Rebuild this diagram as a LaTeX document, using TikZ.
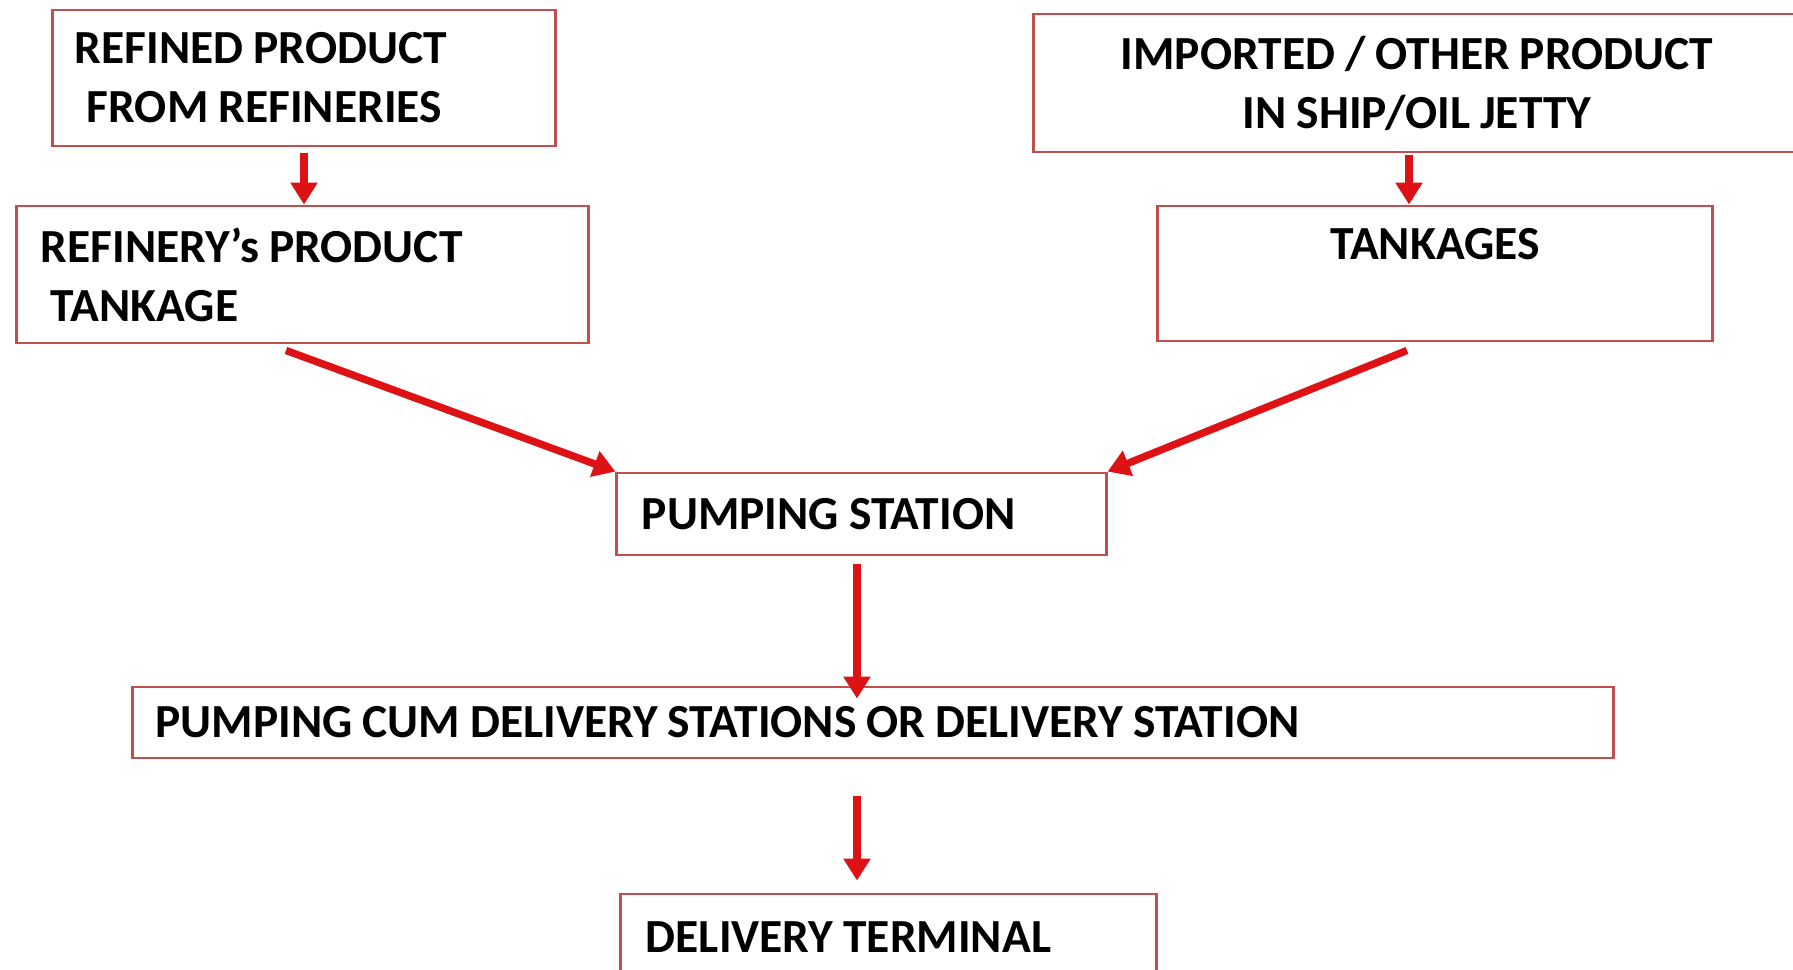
\documentclass[tikz,border=0pt]{standalone}
\usepackage{fontspec}
\setmainfont[WordSpace=0.9]{Carlito}
\usetikzlibrary{arrows.meta,calc}

\definecolor{boxred}{RGB}{192,80,77}
\definecolor{arrowred}{RGB}{222,18,20}

\begin{document}
\begin{tikzpicture}[
    x=0.01cm, y=-0.01cm,
    box/.style={draw=boxred, line width=0.8pt, inner ysep=0pt, font=\fontsize{13.5}{16.8}\selectfont\bfseries,
        execute at begin node={\spaceskip=0.21em\relax}},
    link/.style={-{Triangle[length=0.22cm, width=0.26cm]}, draw=arrowred, line width=2.1pt}
]
\useasboundingbox[fill=white] (0,0) rectangle (1793,970);

% sources
\node[box, inner xsep=0.22cm, text width=4.58cm, align=left, minimum height=1.36cm] (refined) at (304,78) {REFINED PRODUCT\\\hspace*{0.12cm}FROM REFINERIES};
\node[box, inner xsep=0.24cm, text width=5.23cm, align=left, minimum height=1.37cm] (refprod) at (302.5,274.5) {REFINERY’s PRODUCT\\\hspace*{0.1cm}TANKAGE};
\node[box, inner xsep=0pt, minimum width=7.66cm, align=center, minimum height=1.38cm] (imported) at (1417,83) {IMPORTED / OTHER PRODUCT\\IN SHIP/OIL JETTY};
\node[box, inner xsep=0pt, minimum width=5.54cm, align=center, minimum height=1.35cm, text depth=0.59cm] (tankages) at (1435,273.5) {TANKAGES};

% stations
\node[box, inner xsep=0.25cm, text width=4.39cm, align=left, minimum height=0.82cm] (pump) at (861.5,514) {PUMPING STATION};
\node[box, inner xsep=0.23cm, text width=14.34cm, align=left, minimum height=0.71cm] (pcds) at (873,722.5) {PUMPING CUM DELIVERY STATIONS OR DELIVERY STATION};
\node[box, inner xsep=0.25cm, text width=4.85cm, align=left, minimum height=0.86cm] (terminal) at (888.5,937) {DELIVERY TERMINAL};

% flow
\draw[link] ($(refined.south)+(0,-0.06cm)$) -- (refined.south |- refprod.north);
\draw[link] ($(imported.south)+(-0.08cm,-0.02cm)$) -- ($(imported.south |- tankages.north)+(-0.08cm,0)$);
\draw[link] ($(refprod.south)+(-0.165cm,-0.06cm)$) -- (pump.north west);
\draw[link] ($(tankages.south)+(-0.28cm,-0.08cm)$) -- (pump.north east);
\draw[link] ($(pump.south)+(-0.045cm,-0.08cm)$) -- ($(pump.south |- pcds.north)+(-0.045cm,-0.13cm)$);
\draw[link] ($(pcds.south)+(-0.16cm,-0.37cm)$) -- ($(pcds.south |- terminal.north)+(-0.16cm,0.12cm)$);
\end{tikzpicture}
\end{document}
